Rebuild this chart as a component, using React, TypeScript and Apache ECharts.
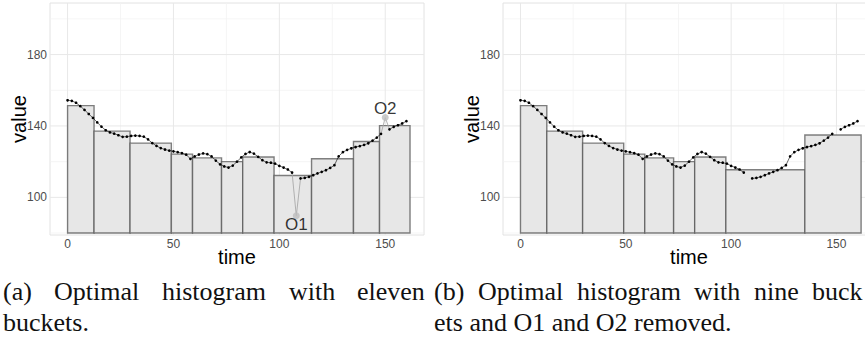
import React, { useEffect, useRef } from "react";
import * as echarts from "echarts";

// Sampled series (time step 2); O1 and O2 are the two outlying samples.
const TIME = [
  0, 2, 4, 6, 8, 10, 12, 14, 16, 18, 20, 22, 24, 26, 28, 30, 32, 34, 36, 38,
  40, 42, 44, 46, 48, 50, 52, 54, 56, 58, 60, 62, 64, 66, 68, 70, 72, 74, 76, 78,
  80, 82, 84, 86, 88, 90, 92, 94, 96, 98, 100, 102, 104, 106, 108, 110, 112, 114, 116, 118,
  120, 122, 124, 126, 128, 130, 132, 134, 136, 138, 140, 142, 144, 146, 148, 150, 152, 154, 156, 158,
  160,
];
const VALUE = [
  154.4, 154.1, 153.0, 151.1, 149.0, 146.7, 144.5, 142.0, 139.6, 137.6,
  136.4, 135.7, 134.8, 133.9, 134.0, 134.4, 134.6, 134.4, 134.0, 132.5,
  130.4, 128.8, 127.6, 126.8, 126.2, 125.8, 125.3, 124.8, 123.9, 121.6,
  122.9, 124.0, 124.6, 124.2, 122.9, 120.6, 118.5, 117.3, 116.7, 117.8,
  120.0, 122.4, 124.3, 125.4, 124.5, 122.7, 120.8, 119.6, 119.4, 118.9,
  117.6, 116.7, 115.6, 113.9, 89.7, 110.6, 110.9, 111.5, 112.4, 113.4,
  114.3, 115.2, 116.5, 118.0, 123.0, 125.3, 126.6, 127.5, 128.2, 128.7,
  129.4, 130.3, 131.8, 133.5, 135.6, 144.7, 138.1, 139.5, 140.4, 141.4,
  142.7,
];
const OUTLIER_NAMES = ["O1", "O2"];
const OUTLIER_TIMES = [108, 150];

// Bucket boundaries and bucket means of the two histograms
const EDGES_ELEVEN = [0, 12.5, 29.5, 49, 59, 72.7, 82.7, 97.5, 115.2, 135, 147.3, 161.7];
const MEANS_ELEVEN = [151.4, 137.1, 130.4, 124.2, 122.1, 120.0, 122.6, 112.2, 121.6, 131.3, 140.2];
const EDGES_NINE = [0, 12.5, 29.5, 49, 59, 72.7, 82.7, 97.5, 135, 161.7];
const MEANS_NINE = [151.4, 137.1, 130.4, 124.2, 122.1, 120.0, 122.6, 115.5, 134.9];

const X_TICKS = [0, 50, 100, 150];
const X_MINOR = [25, 75, 125];
const Y_TICKS = [100, 140, 180];
const Y_MINOR = [80, 120, 160, 200];
const X_RANGE = [-8.3, 168.3];
const Y_RANGE = [78.9, 208.9];
const BAR_BASE = 80;

const SANS = "Liberation Sans";
const SERIF = "Liberation Serif";

function gridLineSeries(idx: number) {
  const data: number[][] = [];
  X_MINOR.forEach((v) => data.push([v, 0, 0]));
  Y_MINOR.forEach((v) => data.push([v, 1, 0]));
  X_TICKS.forEach((v) => data.push([v, 0, 1]));
  Y_TICKS.forEach((v) => data.push([v, 1, 1]));
  return {
    type: "custom",
    xAxisIndex: idx,
    yAxisIndex: idx,
    silent: true,
    z: 0,
    data,
    renderItem: (params: any, api: any) => {
      const v = api.value(0);
      const vertical = api.value(1) === 0;
      const major = api.value(2) === 1;
      const cs = params.coordSys;
      let shape;
      if (vertical) {
        const x = api.coord([v, Y_RANGE[0]])[0];
        shape = { x1: x, y1: cs.y, x2: x, y2: cs.y + cs.height };
      } else {
        const y = api.coord([X_RANGE[0], v])[1];
        shape = { x1: cs.x, y1: y, x2: cs.x + cs.width, y2: y };
      }
      return {
        type: "line",
        shape,
        style: { stroke: major ? "#E8E8E8" : "#F2F2F2", lineWidth: major ? 1 : 0.8 },
      };
    },
  };
}

function bucketSeries(idx: number, edges: number[], means: number[]) {
  const data = means.map((m, i) => [edges[i], edges[i + 1], m]);
  return {
    type: "custom",
    xAxisIndex: idx,
    yAxisIndex: idx,
    silent: true,
    z: 2,
    encode: { x: [0, 1], y: 2 },
    data,
    renderItem: (_params: any, api: any) => {
      const top = api.coord([api.value(0), api.value(2)]);
      const bottom = api.coord([api.value(1), BAR_BASE]);
      return {
        type: "rect",
        shape: { x: top[0], y: top[1], width: bottom[0] - top[0], height: bottom[1] - top[1] },
        style: { fill: "#E7E7E7", stroke: "rgba(85,85,85,0.75)", lineWidth: 1.4 },
      };
    },
  };
}

function mainLineSeries(idx: number) {
  const data = TIME.map((t, i) => [t, OUTLIER_TIMES.includes(t) ? "-" : VALUE[i]]);
  return {
    type: "line",
    xAxisIndex: idx,
    yAxisIndex: idx,
    z: 4,
    data,
    symbol: "circle",
    symbolSize: 2.7,
    showAllSymbol: true,
    connectNulls: false,
    itemStyle: { color: "#000" },
    lineStyle: { color: "#000", width: 0.6 },
  };
}

function outlierSeries(idx: number) {
  const links: any[] = [];
  OUTLIER_TIMES.forEach((t, k) => {
    const i = TIME.indexOf(t);
    if (k > 0) links.push([t - 1, "-"]);
    links.push([TIME[i - 1], VALUE[i - 1]], [TIME[i], VALUE[i]], [TIME[i + 1], VALUE[i + 1]]);
  });
  const points = OUTLIER_TIMES.map((t, k) => {
    const v = VALUE[TIME.indexOf(t)];
    return {
      value: [t, v],
      name: OUTLIER_NAMES[k],
      label: { offset: [0, k === 0 ? 9 : -9] },
    };
  });
  return [
    {
      type: "line",
      xAxisIndex: idx,
      yAxisIndex: idx,
      z: 3,
      data: links,
      symbol: "none",
      connectNulls: false,
      lineStyle: { color: "#A9A9A9", width: 0.9 },
    },
    {
      type: "scatter",
      xAxisIndex: idx,
      yAxisIndex: idx,
      z: 5,
      data: points,
      symbolSize: 7,
      itemStyle: { color: "#BEBEBE" },
      label: {
        show: true,
        position: "inside",
        formatter: "{b}",
        fontFamily: SANS,
        fontSize: 17,
        color: "#000",
      },
    },
  ];
}

function xAxis(idx: number) {
  return {
    type: "value",
    gridIndex: idx,
    min: X_RANGE[0],
    max: X_RANGE[1],
    axisLine: { show: false },
    axisTick: { show: false },
    splitLine: { show: false },
    axisLabel: { customValues: X_TICKS, color: "#4D4D4D", fontSize: 12, fontFamily: SANS, margin: 3 },
    name: "time",
    nameLocation: "middle",
    nameGap: 12,
    nameMoveOverlap: false,
    nameTextStyle: { fontSize: 20, color: "#000", fontFamily: SANS },
  };
}

function yAxis(idx: number) {
  return {
    type: "value",
    gridIndex: idx,
    min: Y_RANGE[0],
    max: Y_RANGE[1],
    axisLine: { show: false },
    axisTick: { show: false },
    splitLine: { show: false },
    axisLabel: { customValues: Y_TICKS, color: "#4D4D4D", fontSize: 12, fontFamily: SANS, margin: 3 },
    name: "value",
    nameLocation: "middle",
    nameGap: 21,
    nameMoveOverlap: false,
    nameTextStyle: { fontSize: 20, color: "#000", fontFamily: SANS },
  };
}

function word(text: string, x: number, y: number) {
  return {
    type: "text",
    x,
    y,
    silent: true,
    style: {
      text,
      fill: "#111",
      fontFamily: SERIF,
      fontSize: 26,
      textAlign: "left",
      textVerticalAlign: "middle",
    },
  };
}

const CAPTION_Y1 = 291;
const CAPTION_Y2 = 322;

export default function App() {
  const ref = useRef<HTMLDivElement>(null);

  useEffect(() => {
    if (!ref.current) return;
    const chart = echarts.init(ref.current, undefined, { renderer: "svg" });
    chart.setOption({
      animation: false,
      backgroundColor: "#fff",
      grid: [
        { left: 50, top: 3, width: 374, height: 232, show: true, borderColor: "#E2E2E2", borderWidth: 1 },
        { left: 503, top: 3, width: 372, height: 232, show: true, borderColor: "#E2E2E2", borderWidth: 1 },
      ],
      xAxis: [xAxis(0), xAxis(1)],
      yAxis: [yAxis(0), yAxis(1)],
      series: [
        gridLineSeries(0),
        bucketSeries(0, EDGES_ELEVEN, MEANS_ELEVEN),
        ...outlierSeries(0),
        mainLineSeries(0),
        gridLineSeries(1),
        bucketSeries(1, EDGES_NINE, MEANS_NINE),
        mainLineSeries(1),
      ],
      graphic: [
        word("(a)", 3, CAPTION_Y1),
        word("Optimal", 54, CAPTION_Y1),
        word("histogram", 162, CAPTION_Y1),
        word("with", 289, CAPTION_Y1),
        word("eleven", 357, CAPTION_Y1),
        word("buckets.", 3, CAPTION_Y2),
        word("(b)", 434, CAPTION_Y1),
        word("Optimal", 478, CAPTION_Y1),
        word("histogram", 577, CAPTION_Y1),
        word("with", 694, CAPTION_Y1),
        word("nine", 754, CAPTION_Y1),
        word("buck", 812, CAPTION_Y1),
        word("ets and O1 and O2 removed.", 434, CAPTION_Y2),
      ],
    });
    return () => chart.dispose();
  }, []);

  return (
    <div
      style={{
        position: "absolute",
        left: 0,
        top: 0,
        width: 865,
        height: 341,
        overflow: "hidden",
        background: "#fff",
      }}
    >
      <div ref={ref} style={{ width: 880, height: 341 }} />
    </div>
  );
}
